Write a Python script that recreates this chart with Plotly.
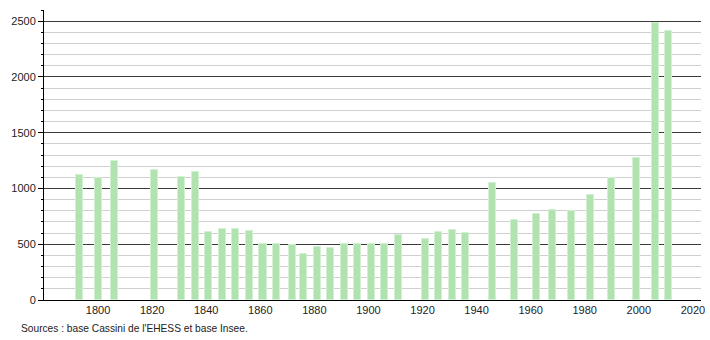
import plotly.graph_objects as go

years = [1793, 1800, 1806, 1821, 1831, 1836, 1841, 1846, 1851, 1856, 1861, 1866,
         1872, 1876, 1881, 1886, 1891, 1896, 1901, 1906, 1911, 1921, 1926, 1931,
         1936, 1946, 1954, 1962, 1968, 1975, 1982, 1990, 1999, 2006, 2011]
population = [1117, 1090, 1247, 1166, 1106, 1151, 609, 636, 636, 617, 506, 506,
              497, 411, 474, 467, 506, 506, 506, 506, 587, 548, 611, 626,
              599, 1046, 719, 770, 806, 794, 938, 1091, 1277, 2481, 2409]

x_ticks = [1800, 1820, 1840, 1860, 1880, 1900, 1920, 1940, 1960, 1980, 2000, 2020]
y_ticks = [0, 500, 1000, 1500, 2000, 2500]
source_text = "Sources : base Cassini de l'EHESS et base Insee."

fig = go.Figure()
fig.add_trace(go.Bar(
    x=years, y=population, width=2.6,
    marker=dict(color="#b0e3b0", line=dict(color="#d2f0d2", width=1)),
    hoverinfo="x+y",
))

fig.update_layout(
    width=710, height=340,
    margin=dict(l=44, r=9, t=10, b=40),
    paper_bgcolor="white", plot_bgcolor="white",
    showlegend=False,
    font=dict(family="Liberation Sans, Arial, sans-serif", size=11, color="#222"),
    bargap=0,
)
fig.update_xaxes(
    range=[1780, 2023], tickvals=x_ticks, ticktext=[str(t) for t in x_ticks],
    showgrid=False, showline=True, linecolor="#000", linewidth=1,
    ticks="", zeroline=False, automargin=False,
)
fig.update_yaxes(
    range=[0, 2600], tickvals=y_ticks, ticktext=[str(t) for t in y_ticks],
    showgrid=True, gridcolor="#3a3a3a", gridwidth=1,
    showline=True, linecolor="#000", linewidth=1,
    ticks="outside", ticklen=5, tickcolor="#000", tickwidth=1,
    zeroline=False, automargin=False,
    minor=dict(dtick=100, showgrid=True, gridcolor="#d0d0d0", gridwidth=1,
               ticks="outside", ticklen=2, tickcolor="#000"),
)
fig.add_annotation(
    text=source_text, xref="paper", yref="paper",
    x=-25/657, y=-28/290, xanchor="left", yanchor="middle", showarrow=False,
    font=dict(family="Liberation Sans, Arial", size=10.2, color="#222"),
)
fig.write_html("out.html")
